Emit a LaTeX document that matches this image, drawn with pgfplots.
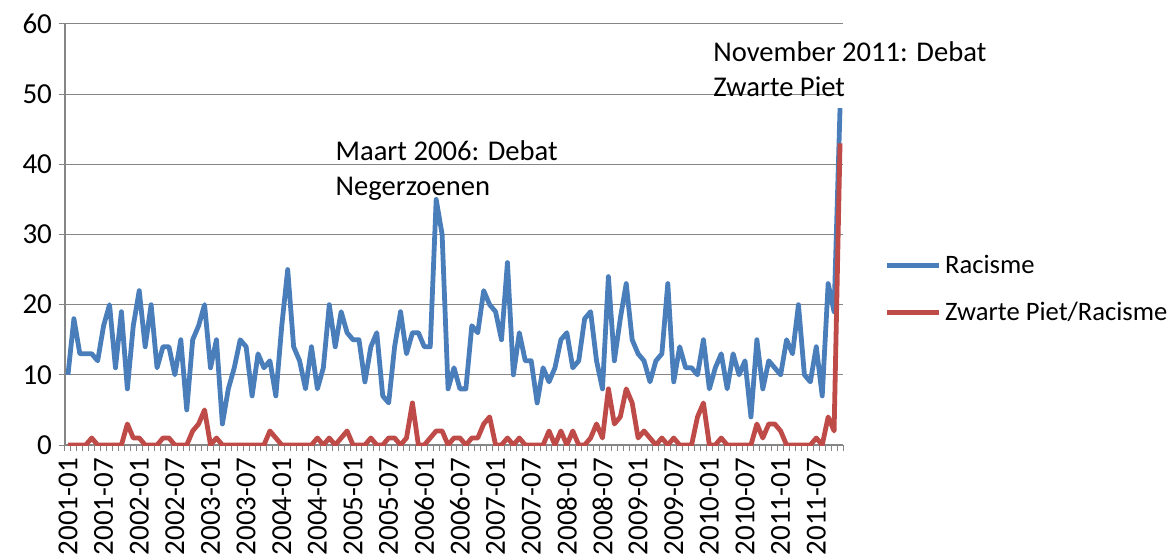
\documentclass[border=0pt]{standalone}
\usepackage{fontspec}
\setmainfont{Carlito}
\usepackage{pgfplots}
\usepackage{pgfplotstable}
\pgfplotsset{compat=1.18}
\definecolor{exblue}{HTML}{4A7EBB}
\definecolor{exred}{HTML}{BE4B48}
\definecolor{exgrid}{HTML}{868686}
\pgfplotstableread{
i R Z
0 10 0
1 18 0
2 13 0
3 13 0
4 13 1
5 12 0
6 17 0
7 20 0
8 11 0
9 19 0
10 8 3
11 17 1
12 22 1
13 14 0
14 20 0
15 11 0
16 14 1
17 14 1
18 10 0
19 15 0
20 5 0
21 15 2
22 17 3
23 20 5
24 11 0
25 15 1
26 3 0
27 8 0
28 11 0
29 15 0
30 14 0
31 7 0
32 13 0
33 11 0
34 12 2
35 7 1
36 17 0
37 25 0
38 14 0
39 12 0
40 8 0
41 14 0
42 8 1
43 11 0
44 20 1
45 14 0
46 19 1
47 16 2
48 15 0
49 15 0
50 9 0
51 14 1
52 16 0
53 7 0
54 6 1
55 14 1
56 19 0
57 13 1
58 16 6
59 16 0
60 14 0
61 14 1
62 35 2
63 30 2
64 8 0
65 11 1
66 8 1
67 8 0
68 17 1
69 16 1
70 22 3
71 20 4
72 19 0
73 15 0
74 26 1
75 10 0
76 16 1
77 12 0
78 12 0
79 6 0
80 11 0
81 9 2
82 11 0
83 15 2
84 16 0
85 11 2
86 12 0
87 18 0
88 19 1
89 12 3
90 8 1
91 24 8
92 12 3
93 18 4
94 23 8
95 15 6
96 13 1
97 12 2
98 9 1
99 12 0
100 13 1
101 23 0
102 9 1
103 14 0
104 11 0
105 11 0
106 10 4
107 15 6
108 8 0
109 11 0
110 13 1
111 8 0
112 13 0
113 10 0
114 12 0
115 4 0
116 15 3
117 8 1
118 12 3
119 11 3
120 10 2
121 15 0
122 13 0
123 20 0
124 10 0
125 9 0
126 14 1
127 7 0
128 23 4
129 19 2
130 48 43
}\data
\begin{document}
\begin{tikzpicture}
\begin{axis}[
  at={(0,0)}, anchor=south west,
  scale only axis, width=389pt, height=210.5pt,
  xmin=-0.5, xmax=130.5, ymin=0, ymax=60,
  clip mode=individual,
  axis lines*=left,
  axis line style={exgrid, line width=0.6pt},
  ytick={0,10,...,60},
  ymajorgrids, grid style={exgrid, line width=0.5pt},
  xtick={0,6,...,126},
  xticklabels={2001-01,2001-07,2002-01,2002-07,2003-01,2003-07,2004-01,2004-07,2005-01,2005-07,2006-01,2006-07,2007-01,2007-07,2008-01,2008-07,2009-01,2009-07,2010-01,2010-07,2011-01,2011-07},
  x tick label style={rotate=90, anchor=east},
  minor xtick={-0.5,0.5,...,130.5},
  tick align=outside,
  major tick length=3pt, minor tick length=3pt,
  major x tick style={draw=none},
  minor x tick style={exgrid, line width=0.5pt},
  major y tick style={exgrid, line width=0.5pt},
  tick label style={font=\fontsize{14.5}{16}\selectfont, text=black},
  /pgf/number format/assume math mode=true,
  legend style={draw=none, fill=none, at={(1.045,0.37)}, anchor=west,
    font=\fontsize{13.3}{15}\selectfont, row sep=9pt},
  legend cell align=left,
  legend image code/.code={\draw[#1] (0pt,0pt) -- (26pt,0pt);},
]
\addplot[exblue, line width=2.4pt, line join=round, no markers] table[x=i, y=R] {\data};
\addlegendentry{Racisme}
\addplot[exred, line width=2.4pt, line join=round, no markers] table[x=i, y=Z] {\data};
\addlegendentry{Zwarte Piet/Racisme}
\node[anchor=north west, align=left, inner sep=0pt, font=\fontsize{14.3}{17.5}\selectfont] at (axis cs:45,43.4) {Maart 2006: Debat\\Negerzoenen};
\node[anchor=north west, align=left, inner sep=0pt, font=\fontsize{14.3}{17.5}\selectfont] at (axis cs:108.6,57.6) {November 2011: Debat\\Zwarte Piet};
\end{axis}
\pgfresetboundingbox
\path (-32.5pt,-55.5pt) rectangle (553.5pt,222.5pt);
\end{tikzpicture}
\end{document}
